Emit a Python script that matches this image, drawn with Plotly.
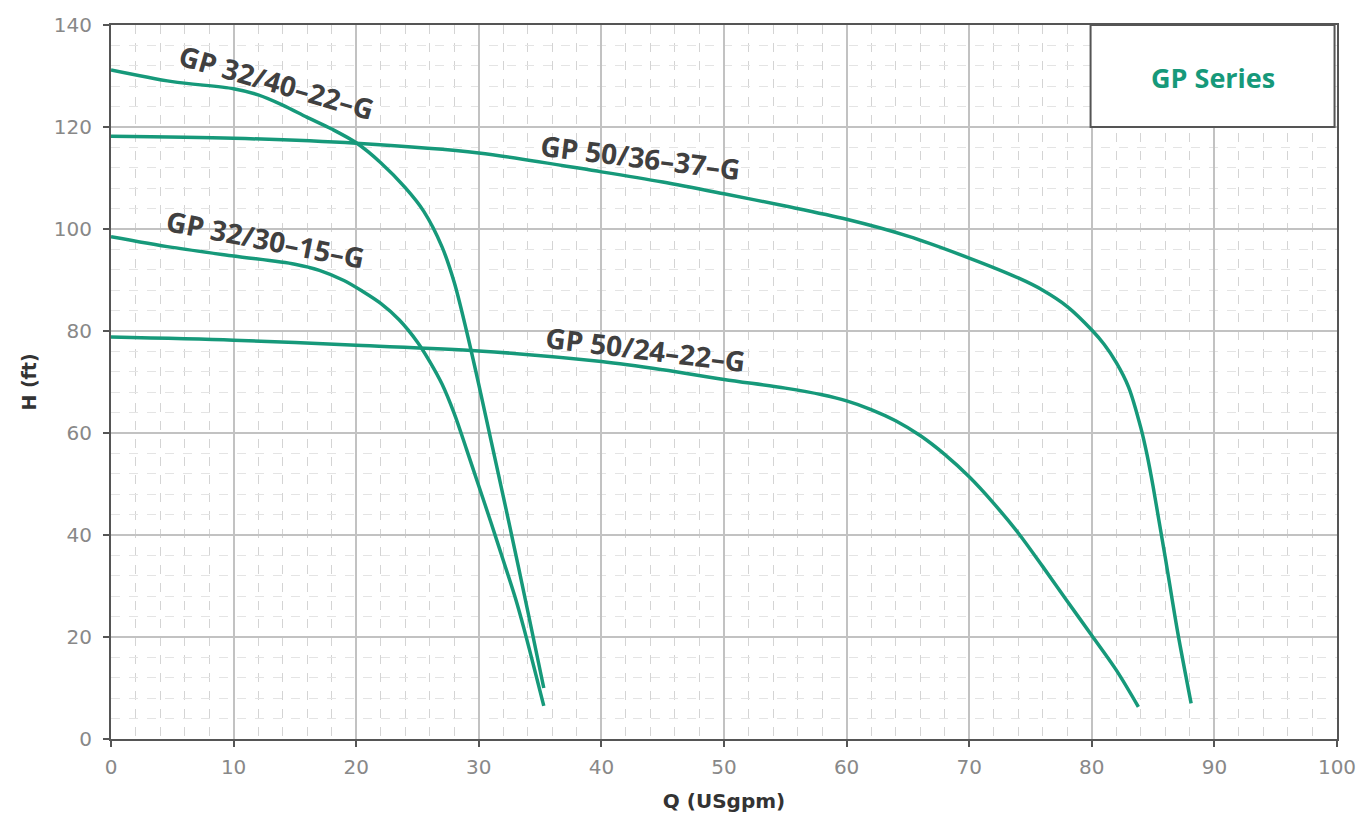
import plotly.graph_objects as go

# ---- data ----
q_32_40 = [0, 5, 10, 12, 14, 16, 18, 20, 22, 24, 25.5, 27, 28, 29, 30, 31, 32.5, 34, 35.3]
h_32_40 = [131.2, 128.9, 127.5, 126.3, 124.3, 121.9, 119.6, 116.9, 113.0, 108.1, 103.5, 96.5, 89.5, 80, 69.5, 58.5, 42, 25, 10]

q_32_30 = [0, 5, 10, 15, 17, 19, 20.5, 22, 23.5, 25, 26, 27, 28, 29, 30, 31, 32, 33, 33.7, 35.3]
h_32_30 = [98.5, 96.4, 94.7, 93.1, 91.9, 89.9, 87.8, 85.4, 82.2, 77.8, 74.0, 69.6, 63.8, 56.8, 49.6, 42.4, 35, 27.5, 21.5, 6.5]

q_50_36 = [0, 10, 20, 30, 40, 45, 50, 55, 60, 65, 70, 74, 76, 78, 80, 81, 82, 83, 84, 84.5, 85, 85.5, 86, 87, 88.1]
h_50_36 = [118.2, 117.8, 116.8, 114.9, 111.2, 109.2, 106.9, 104.5, 101.9, 98.6, 94.3, 90.4, 88, 84.8, 80.2, 77.4, 73.8, 69, 61, 55.8, 49.5, 42.5, 35.5, 21, 7]

q_50_24 = [0, 10, 20, 30, 40, 45, 50, 55, 58, 60, 62, 64, 66, 68, 70, 72, 74, 76, 78, 80, 82, 83.8]
h_50_24 = [78.8, 78.2, 77.2, 76.1, 74, 72.4, 70.5, 68.8, 67.5, 66.3, 64.6, 62.4, 59.5, 55.8, 51.4, 46.2, 40.4, 33.8, 27, 20.3, 13.5, 6.3]

series_names = ["GP 32/40–22–G", "GP 32/30–15–G", "GP 50/36–37–G", "GP 50/24–22–G"]
label_q = [13.5, 12.6, 43.2, 43.6]
label_h = [128.8, 98.0, 114.1, 76.5]
label_angle = [16, 11, 7, 7]

x_ticks = list(range(0, 101, 10))
y_ticks = list(range(0, 141, 20))
legend_title = "GP Series"

GREEN = "#16997a"
TEXT = "#404040"
FONT = "Open Sans, Noto Sans, sans-serif"
TICKFONT = "DejaVu Sans, sans-serif"

fig = go.Figure()
for q, h, name in [(q_32_40, h_32_40, series_names[0]),
                   (q_32_30, h_32_30, series_names[1]),
                   (q_50_36, h_50_36, series_names[2]),
                   (q_50_24, h_50_24, series_names[3])]:
    fig.add_trace(go.Scatter(x=q, y=h, mode="lines", name=name,
                             line=dict(color=GREEN, width=3.5, shape="spline", smoothing=0.9),
                             showlegend=False, hoverinfo="x+y+name"))

for name, xq, yh, ang in zip(series_names, label_q, label_h, label_angle):
    fig.add_annotation(x=xq, y=yh, xref="x", yref="y", text=name, showarrow=False,
                       xanchor="center", yanchor="middle",
                       textangle=ang, font=dict(family=FONT, size=28, color=TEXT, weight=700))

# legend-like box
fig.add_shape(type="rect", xref="paper", yref="paper", x0=0.799, x1=0.998, y0=0.857, y1=1.0,
              line=dict(color="#555555", width=2), fillcolor="white", layer="above")
fig.add_annotation(x=0.8985, y=0.926, xref="paper", yref="paper", text=legend_title,
                   xanchor="center", yanchor="middle",
                   showarrow=False, font=dict(family=FONT, size=27, color=GREEN, weight=700))

axis_common = dict(
    showline=True, linecolor="#555555", linewidth=2, mirror=True,
    ticks="outside", ticklen=6, tickwidth=2, tickcolor="#555555",
    showgrid=True, gridcolor="#c2c2c2", gridwidth=1.5,
    tickfont=dict(family=TICKFONT, size=20, color="#888888"),
    zeroline=False, automargin=False,
)

fig.update_xaxes(range=[0, 100], tickvals=x_ticks, ticklabelstandoff=3, **axis_common,
                 minor=dict(dtick=2, showgrid=True, gridcolor="#d4d4d4", griddash="dash", gridwidth=1, ticks=""),
                 title=dict(text="Q (USgpm)", font=dict(family=TICKFONT, size=20, color="#333333", weight=700), standoff=18))
fig.update_yaxes(range=[0, 140], tickvals=y_ticks, ticklabelstandoff=7, **axis_common,
                 minor=dict(dtick=4, showgrid=True, gridcolor="#e4e4e4", griddash="dash", gridwidth=1, ticks=""),
                 title=dict(text="H (ft)", font=dict(family=TICKFONT, size=19, color="#333333", weight=700), standoff=12))

# page body has an 8px margin: size the figure so the plot area lands where the reference has it
fig.update_layout(
    template="none",
    width=1354, height=805,
    margin=dict(l=103, r=25, t=17, b=74),
    plot_bgcolor="white", paper_bgcolor="white",
)

fig.write_html("out.html")
